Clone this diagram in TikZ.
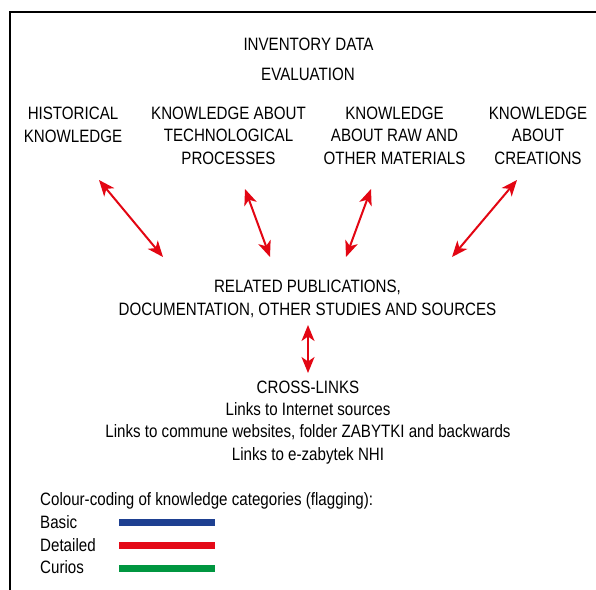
\documentclass[tikz,border=0pt]{standalone}
\usepackage{fontspec}
\setmainfont{Liberation Sans}[FakeStretch=0.845]
\usetikzlibrary{arrows.meta}
\definecolor{arrred}{RGB}{227,6,19}
\definecolor{legblue}{RGB}{30,64,145}
\definecolor{legred}{RGB}{228,10,24}
\definecolor{leggreen}{RGB}{0,150,64}
\begin{document}
\begin{tikzpicture}[x=1pt,y=-1pt,
  txt/.style={font=\fontsize{17.9}{22.3}\selectfont, inner sep=0pt, anchor=base, align=center},
  ltxt/.style={font=\fontsize{17.9}{22.3}\selectfont, inner sep=0pt, anchor=base west},
  dbl/.style={draw=arrred, line width=2pt, {Stealth[length=16pt,width=13pt,inset=4.5pt]}-{Stealth[length=16pt,width=13pt,inset=4.5pt]}},
  legbar/.style={line width=7pt}
]
\useasboundingbox (0,0) rectangle (596,589);
\fill[white] (0,0) rectangle (596,589);
\draw[line width=1.2pt] (10,600) -- (10,12) -- (600,12);

\node[txt] (inv) at (308.5,50) {INVENTORY DATA};
\node[txt] (eval) at (308,80) {EVALUATION};

\node[txt] (hist) at (73,142) {HISTORICAL\\KNOWLEDGE};
\node[txt] (tech) at (228.5,164) {KNOWLEDGE ABOUT\\TECHNOLOGICAL\\PROCESSES};
\node[txt] (raw) at (394.5,164) {KNOWLEDGE\\ABOUT RAW AND\\OTHER MATERIALS};
\node[txt] (crea) at (538,164) {KNOWLEDGE\\ABOUT\\CREATIONS};

\node[txt] (rel) at (307.5,315) {RELATED PUBLICATIONS,\\DOCUMENTATION, OTHER STUDIES AND SOURCES};

\node[txt] (cross) at (308,460) {CROSS-LINKS\\Links to Internet sources\\Links to commune websites, folder ZABYTKI and backwards\\Links to e-zabytek NHI};

\coordinate (h1) at (99,180);  \coordinate (h2) at (163,257);
\coordinate (t1) at (245,189); \coordinate (t2) at (270,257);
\coordinate (r1) at (371,189); \coordinate (r2) at (346,257);
\coordinate (c1) at (517,180); \coordinate (c2) at (452,257);
\coordinate (v1) at (308,325); \coordinate (v2) at (308,373);

\draw[dbl] (h1) -- (h2);
\draw[dbl] (t1) -- (t2);
\draw[dbl] (r1) -- (r2);
\draw[dbl] (c1) -- (c2);
\draw[dbl] (v1) -- (v2);

\node[ltxt] (leg) at (40,505) {Colour-coding of knowledge categories (flagging):};
\node[ltxt] (basic) at (40,528) {Basic};
\node[ltxt] (det) at (40,551) {Detailed};
\node[ltxt] (cur) at (40,573) {Curios};
\coordinate (b1) at (119,522); \coordinate (b2) at (215,522);
\coordinate (d1) at (119,545); \coordinate (d2) at (215,545);
\coordinate (g1) at (119,568.5); \coordinate (g2) at (215,568.5);
\draw[legbar, legblue] (b1) -- (b2);
\draw[legbar, legred] (d1) -- (d2);
\draw[legbar, leggreen] (g1) -- (g2);
\end{tikzpicture}
\end{document}
